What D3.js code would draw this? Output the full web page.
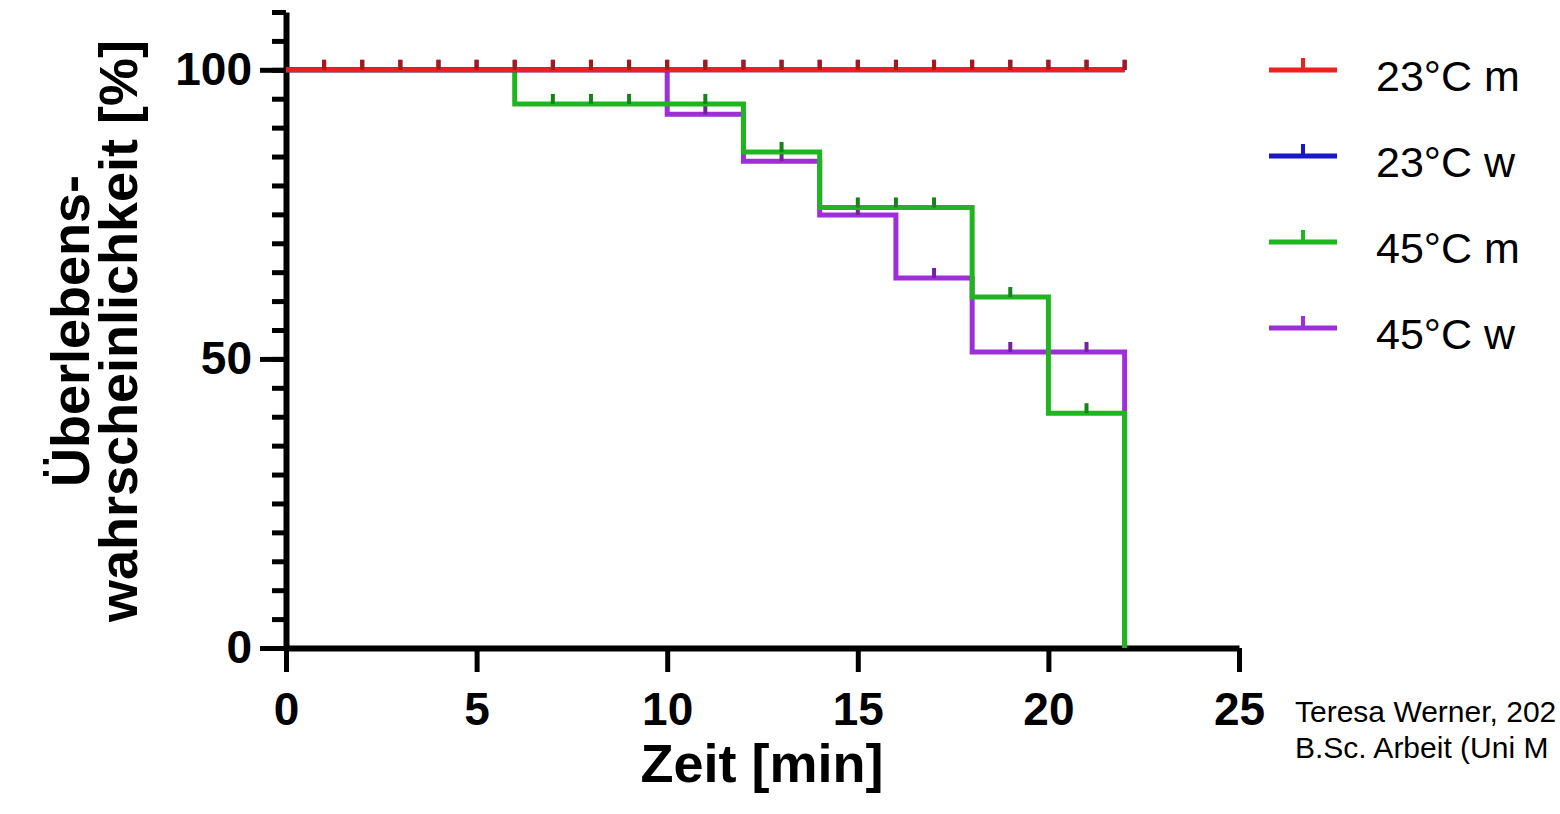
<!DOCTYPE html>
<html>
<head>
<meta charset="utf-8">
<script src="https://cdn.jsdelivr.net/npm/d3@7"></script>
<style>
  body { margin: 0; background: #fff; }
  svg text { font-family: "Liberation Sans", Arial, sans-serif; fill: #000; }
</style>
</head>
<body>
<svg id="chart" width="1560" height="814"></svg>
<script>
// series names + colours
var seriesNames = ["23°C m", "23°C w", "45°C m", "45°C w"];
var seriesColors = ["#ee1f1f", "#1818c8", "#1fb51f", "#9d2fd8"];

// step times (min) and survival (%)
var times23m = [0, 22];
var surv23m = [100, 100];
var times23w = [0, 22];
var surv23w = [100, 100];
var times45m = [0, 6, 12, 14, 18, 20, 22];
var surv45m = [100, 94.1, 85.8, 76.2, 60.7, 40.6, 0];
var times45w = [0, 10, 12, 14, 16, 18, 22];
var surv45w = [100, 92.3, 84.2, 74.9, 64.0, 51.2, 0];

// censored observations (min)
var cens23m = [1, 2, 3, 4, 5, 6, 7, 8, 9, 10, 11, 12, 13, 14, 15, 16, 17, 18, 19, 20, 21, 22];
var cens23w = [1, 2, 3, 4, 5, 6, 7, 8, 9, 10, 11, 12, 13, 14, 15, 16, 17, 18, 19, 20, 21, 22];
var cens45m = [7, 8, 9, 11, 13, 15, 16, 17, 19, 21];
var cens45w = [11, 13, 15, 17, 19, 21];

var xTicks = [0, 5, 10, 15, 20, 25];
var yTicks = [0, 50, 100];

var svg = d3.select("#chart");

var x = d3.scaleLinear().domain([0, 25]).range([286, 1239]);
var y = d3.scaleLinear().domain([0, 110]).range([648, 12]);

// axes
var yMinor = svg.append("g")
    .attr("transform", "translate(286,0)")
    .call(d3.axisLeft(y).tickValues(d3.range(0, 111, 5)).tickSize(14).tickSizeOuter(0).tickFormat(""));
yMinor.select(".domain").remove();

var yAxis = svg.append("g")
    .attr("class", "axis")
    .attr("transform", "translate(286,0)")
    .call(d3.axisLeft(y).tickValues(yTicks).tickSize(26).tickPadding(8).tickSizeOuter(0));

var xAxis = svg.append("g")
    .attr("class", "axis")
    .attr("transform", "translate(0,648)")
    .call(d3.axisBottom(x).tickValues(xTicks).tickSize(24).tickPadding(20).tickSizeOuter(0));

svg.selectAll(".tick line").attr("stroke", "#000").attr("stroke-width", 5);
svg.selectAll(".domain").attr("stroke", "#000").attr("stroke-width", 6);
svg.selectAll(".axis text")
    .style("font-size", "46px")
    .style("font-weight", "bold")
    .attr("fill", "#000");

// axis titles
svg.append("text")
    .attr("x", 762).attr("y", 782)
    .attr("text-anchor", "middle")
    .style("font-size", "54px").style("font-weight", "bold")
    .text("Zeit [min]");

svg.append("text")
    .attr("transform", "translate(89,331) rotate(-90)")
    .attr("text-anchor", "middle")
    .style("font-size", "54px").style("font-weight", "bold")
    .text("Überlebens-");
svg.append("text")
    .attr("transform", "translate(137,331) rotate(-90)")
    .attr("text-anchor", "middle")
    .style("font-size", "54px").style("font-weight", "bold")
    .text("wahrscheinlichkeit [%]");

// curves
var series = [
    {t: times23m, s: surv23m, c: cens23m, col: seriesColors[0]},
    {t: times23w, s: surv23w, c: cens23w, col: seriesColors[1]},
    {t: times45m, s: surv45m, c: cens45m, col: seriesColors[2]},
    {t: times45w, s: surv45w, c: cens45w, col: seriesColors[3]}
];

function survAt(d, t) {
    var v = d.s[0];
    for (var i = 0; i < d.t.length; i++) {
        if (d.t[i] <= t) v = d.s[i];
    }
    return v;
}

var line = d3.line()
    .x(function (p) { return x(p[0]); })
    .y(function (p) { return y(p[1]); })
    .curve(d3.curveStepAfter);

// draw order: 45 w, 45 m, 23 w, 23 m (red on top)
var order = [3, 2, 1, 0];
order.forEach(function (k) {
    var d = series[k];
    var pts = d.t.map(function (t, i) { return [t, d.s[i]]; });
    var g = svg.append("g");
    g.append("path")
        .attr("d", line(pts))
        .attr("fill", "none")
        .attr("stroke", d.col)
        .attr("stroke-width", 5);
    g.selectAll("line")
        .data(d.c)
        .enter()
        .append("line")
        .attr("x1", function (t) { return x(t); })
        .attr("x2", function (t) { return x(t); })
        .attr("y1", function (t) { return y(survAt(d, t)); })
        .attr("y2", function (t) { return y(survAt(d, t)) - 10; })
        .attr("stroke", d3.color(d.col).darker(0.9))
        .attr("stroke-width", 4);
});

// legend
var legend = svg.append("g")
    .selectAll("g")
    .data(seriesNames)
    .enter()
    .append("g")
    .attr("transform", function (d, i) { return "translate(0," + (70 + i * 86) + ")"; });
legend.append("line")
    .attr("x1", 1269).attr("x2", 1337)
    .attr("stroke", function (d, i) { return seriesColors[i]; })
    .attr("stroke-width", 5);
legend.append("line")
    .attr("x1", 1303).attr("x2", 1303)
    .attr("y1", 0).attr("y2", -12)
    .attr("stroke", function (d, i) { return seriesColors[i]; })
    .attr("stroke-width", 4);
legend.append("text")
    .attr("x", 1376).attr("y", 6)
    .attr("dy", "0.35em")
    .style("font-size", "43px")
    .text(function (d) { return d; });

// credit
svg.append("text").attr("x", 1295).attr("y", 722)
    .style("font-size", "30px").text("Teresa Werner, 202");
svg.append("text").attr("x", 1295).attr("y", 758)
    .style("font-size", "30px").text("B.Sc. Arbeit (Uni M");
</script>
</body>
</html>
